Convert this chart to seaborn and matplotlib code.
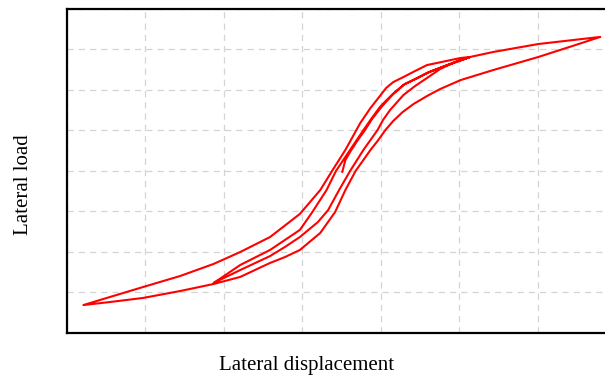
import numpy as np
import pandas as pd
import matplotlib
matplotlib.use("Agg")
import matplotlib.pyplot as plt
import seaborn as sns

# Load–displacement record, split into its loading branches (displacement, load)
initial_disp = [5.1, 5.5, 6.1, 7.0, 8.0, 8.9, 10.2, 11.6, 13.1, 14.7, 16.2, 18.5, 20.4, 21.4]
initial_load = [-0.5, 5.4, 9.4, 14.8, 20.2, 25.7, 32.1, 38.0, 43.0, 45.9, 48.9, 52.3, 54.8, 56.3]

inner_unload_disp = [21.4, 19.5, 17.6, 15.9, 14.4, 12.9, 11.2, 10.3, 9.6, 7.8, 6.1, 4.7,
                     3.3, 2.0, -0.3, -2.2, -4.1, -7.9, -11.3]
inner_unload_load = [56.3, 53.8, 50.4, 45.9, 42.0, 37.5, 30.1, 25.2, 20.2, 10.4, 0.0, -9.4,
                     -19.3, -25.2, -32.6, -37.5, -42.0, -48.9, -55.3]

inner_reload_disp = [-11.3, -9.8, -7.9, -4.1, -0.3, 1.3, 3.1, 4.3, 6.1, 7.8, 8.7, 9.9, 11.4,
                     12.9, 14.4, 15.9, 18.2, 20.2, 21.4]
inner_reload_load = [-55.3, -51.4, -46.4, -39.0, -29.1, -20.2, -9.4, 0.0, 10.4, 20.2, 25.2, 31.6,
                     37.5, 42.5, 45.4, 48.4, 51.9, 54.8, 56.3]

outer_load_disp = [21.4, 24.4, 30.1, 38.0]
outer_load_load = [56.3, 58.8, 62.7, 66.2]

outer_unload_disp = [38.0, 34.2, 30.1, 24.4, 20.2, 17.6, 15.9, 14.2, 12.8, 11.6, 10.6, 9.6, 8.7,
                     7.7, 6.8, 5.5, 4.2, 2.3, -0.3, -2.2, -4.1, -7.9, -11.3, -15.6, -20.3,
                     -24.5, -27.9]
outer_unload_load = [66.2, 61.4, 56.3, 49.9, 44.9, 40.5, 37.0, 33.1, 29.1, 24.7, 20.2, 14.8, 10.4,
                     4.9, 0.0, -9.4, -20.2, -30.6, -39.0, -42.5, -45.4, -52.3, -55.8, -59.3, -62.7,
                     -64.7, -66.2]

outer_reload_disp = [-27.9, -24.5, -20.3, -15.6, -11.3, -7.9, -4.1, -0.3, 2.3, 3.8, 5.5, 6.9, 7.4,
                     8.7, 10.0, 10.7, 11.6, 12.9, 14.4, 15.9, 20.2, 21.4]
outer_reload_load = [-66.2, -62.2, -57.3, -51.9, -45.9, -40.0, -32.6, -21.2, -9.4, 0.0, 10.4, 20.2,
                     23.7, 31.1, 37.5, 41.0, 43.9, 46.4, 49.4, 52.3, 55.8, 56.3]

branches = [
    (initial_disp, initial_load),
    (inner_unload_disp, inner_unload_load),
    (inner_reload_disp, inner_reload_load),
    (outer_load_disp, outer_load_load),
    (outer_unload_disp, outer_unload_load),
    (outer_reload_disp, outer_reload_load),
]
disp = np.concatenate([np.asarray(d, float) for d, _ in branches])
load = np.concatenate([np.asarray(f, float) for _, f in branches])
curve = pd.DataFrame({"disp": disp, "load": load})

sns.set_theme(style="white")
plt.rcParams["font.family"] = ["Liberation Serif", "DejaVu Serif"]

fig = plt.figure(figsize=(6.05, 3.76), dpi=100)
ax = fig.add_axes([0.1107, 0.1144, 0.9074, 0.8617])

sns.lineplot(data=curve, x="disp", y="load", sort=False, estimator=None,
             color="#ff0000", linewidth=1.5, ax=ax)
ax.lines[-1].set_solid_joinstyle("round")

ax.set_xlim(-30, 40)
ax.set_ylim(-80, 80)
ax.set_xticks(np.arange(-30, 41, 10))
ax.set_yticks(np.arange(-80, 81, 20))
ax.tick_params(length=0, labelbottom=False, labelleft=False)
ax.grid(True, color="#d4d4d4", linestyle=(0, (5, 4)), linewidth=0.9)

for side in ["left", "top", "bottom", "right"]:
    ax.spines[side].set_color("black")
    ax.spines[side].set_linewidth(1.6)

ax.set_xlabel("Lateral displacement", fontsize=15, color="black")
ax.set_ylabel("Lateral load", fontsize=15, color="black")
ax.xaxis.set_label_coords(0.437, -0.07)
ax.yaxis.set_label_coords(-0.061, 0.457)

fig.savefig("out.png", dpi=100)
